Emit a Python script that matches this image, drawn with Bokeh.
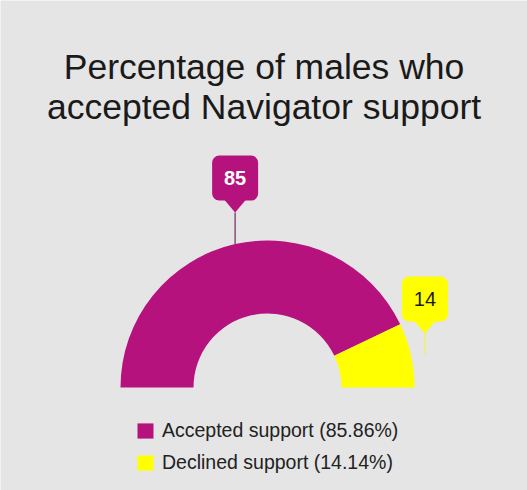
import numpy as np
from bokeh.plotting import figure
from bokeh.models import Range1d, Legend, LegendItem, ColumnDataSource, BoxAnnotation
from bokeh.core.properties import value
from bokeh.embed import file_html
from bokeh.resources import INLINE

# ---- data ----
title_lines = ["Percentage of males who", "accepted Navigator support"]
categories = ["Accepted support", "Declined support"]
percentages = [85.86, 14.14]
callout_labels = ["85", "14"]

# ---- style / layout ----
colors = ["#b5127e", "#ffff00"]
callout_text_colors = ["#ffffff", "#1a1a1a"]
stem_colors = ["#7a3a60", "#f2f060"]
callout_dx = [0, 14]
callout_dy = [66, 56]
BG = "#e5e5e5"
FONT = "Liberation Sans"
W, H = 527, 490
cx, cy, r_in, r_out = 267, 103, 74, 147

p = figure(width=W, height=H, x_range=Range1d(0, W), y_range=Range1d(0, H),
           output_backend="svg", toolbar_location=None, min_border=0)
p.axis.visible = False
p.grid.visible = False
p.outline_line_color = None
p.background_fill_color = BG
p.border_fill_color = BG

frac = np.array(percentages) / sum(percentages)
starts = np.pi - np.pi * np.cumsum(frac)
ends = starts + np.pi * frac
mids = (starts + ends) / 2

src = ColumnDataSource(dict(start=starts, end=ends, color=colors, cat=categories))
wedges = p.annular_wedge(x=cx, y=cy, inner_radius=r_in, outer_radius=r_out,
                         start_angle="start", end_angle="end", fill_color="color",
                         line_color=None, source=src)

# title
p.text(x=[W / 2, W / 2], y=[424, 384], text=title_lines, text_align="center",
       text_baseline="middle", text_font=value(FONT), text_font_size="35.5px",
       text_color="#1a1a1a")

# callouts
box_w, box_h = 46, 45
for i, lab in enumerate(callout_labels):
    ax = cx + r_out * np.cos(mids[i])
    ay = cy + r_out * np.sin(mids[i])
    bx = ax + callout_dx[i]
    by = ay + callout_dy[i]
    bottom = by - box_h / 2
    tip = bottom - 12
    p.segment(x0=[bx], y0=[ay], x1=[bx], y1=[tip], line_color=stem_colors[i],
              line_width=1.3)
    p.patch(x=[bx - 11, bx + 11, bx], y=[bottom + 1, bottom + 1, tip],
            fill_color=colors[i], line_color=None)
    box = BoxAnnotation(left=bx - box_w / 2, right=bx + box_w / 2, bottom=bottom,
                        top=by + box_h / 2, fill_color=colors[i], fill_alpha=1,
                        line_color=None, border_radius=7, level="underlay")
    p.add_layout(box)
    p.text(x=[bx], y=[by], text=[lab], text_align="center", text_baseline="middle",
           text_font=value(FONT), text_font_size="20px",
           text_font_style="bold" if i == 0 else "normal",
           text_color=callout_text_colors[i])

items = [LegendItem(label=f"{c} ({v:.2f}%)", renderers=[wedges], index=i)
         for i, (c, v) in enumerate(zip(categories, percentages))]
legend = Legend(items=items, location=(135, 16), orientation="vertical",
                glyph_width=20, glyph_height=19, label_text_font=FONT,
                label_text_font_size="19.5px", label_text_color="#222222",
                label_standoff=7, spacing=9, padding=0, margin=0,
                background_fill_alpha=0, border_line_color=None,
                label_height=19)
p.add_layout(legend)

open("out.html", "w").write(file_html(p, INLINE))
